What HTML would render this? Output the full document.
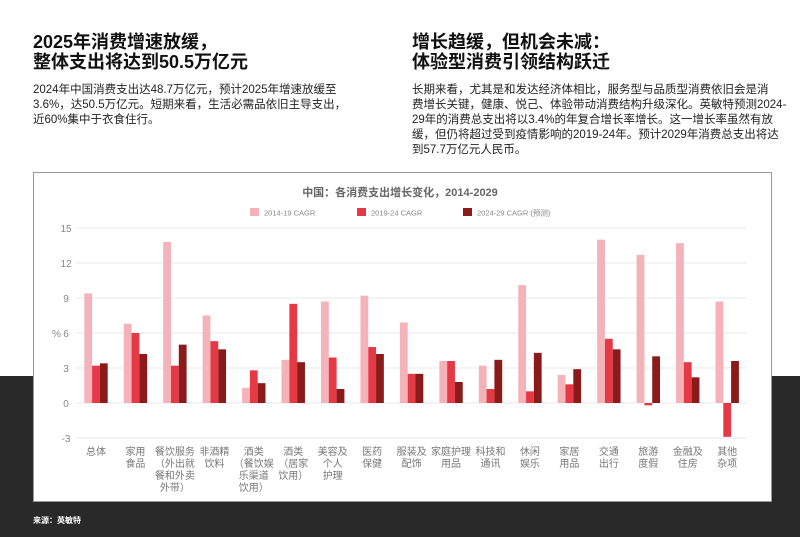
<!DOCTYPE html>
<html><head><meta charset="utf-8">
<style>
body{margin:0;width:800px;height:537px;position:relative;overflow:hidden;background:#fff;font-family:"Liberation Sans","Noto Sans CJK SC",sans-serif;}
.dark{position:absolute;left:0;top:376px;width:800px;height:161px;background:#2a2929;}
.h{position:absolute;font-size:18px;font-weight:bold;color:#111;line-height:20px;}
.p{position:absolute;font-size:11.5px;color:#222;line-height:15px;}
.card{position:absolute;left:33px;top:172px;width:739px;height:330px;background:#fff;border:1px solid #999;box-sizing:border-box;}
.src{position:absolute;left:33px;top:515px;font-size:8px;color:#fff;font-weight:bold;}
</style></head><body>
<div class="dark"></div>
<div class="h" style="left:33px;top:32px">2025年消费增速放缓，<br>整体支出将达到50.5万亿元</div>
<div class="p" style="left:33px;top:83px">2024年中国消费支出达48.7万亿元，预计2025年增速放缓至<br>3.6%，达50.5万亿元。短期来看，生活必需品依旧主导支出，<br>近60%集中于衣食住行。</div>
<div class="h" style="left:412px;top:32px">增长趋缓，但机会未减：<br>体验型消费引领结构跃迁</div>
<div class="p" style="left:412px;top:83px">长期来看，尤其是和发达经济体相比，服务型与品质型消费依旧会是消<br>费增长关键，健康、悦己、体验带动消费结构升级深化。英敏特预测2024-<br>29年的消费总支出将以3.4%的年复合增长率增长。这一增长率虽然有放<br>缓，但仍将超过受到疫情影响的2019-24年。预计2029年消费总支出将达<br>到57.7万亿元人民币。</div>
<div class="card"></div>
<svg id="chart" width="800" height="537" style="position:absolute;left:0;top:0"></svg>
<div class="src">来源：英敏特</div>
<script>
const categories=[["总体"],["家用","食品"],["餐饮服务","（外出就","餐和外卖","外带）"],["非酒精","饮料"],["酒类","（餐饮娱","乐渠道","饮用）"],["酒类","（居家","饮用）"],["美容及","个人","护理"],["医药","保健"],["服装及","配饰"],["家庭护理","用品"],["科技和","通讯"],["休闲","娱乐"],["家居","用品"],["交通","出行"],["旅游","度假"],["金融及","住房"],["其他","杂项"]];
const s1419=[9.4,6.8,13.8,7.5,1.3,3.7,8.7,9.2,6.9,3.6,3.2,10.1,2.4,14.0,12.7,13.7,8.7];
const s1924=[3.2,6.0,3.2,5.3,2.8,8.5,3.9,4.8,2.5,3.6,1.2,1.0,1.6,5.5,-0.2,3.5,-2.9];
const s2429=[3.4,4.2,5.0,4.6,1.7,3.5,1.2,4.2,2.5,1.8,3.7,4.3,2.9,4.6,4.0,2.2,3.6];
const yTicks=[15,12,9,6,3,0,-3];
const seriesNames=["2014-19 CAGR","2019-24 CAGR","2024-29 CAGR (预测)"];
const colors=["#f4b3b8","#e63946","#8b1a1a"];
const NS="http://www.w3.org/2000/svg";
const svg=document.getElementById('chart');
const y=v=>403-v*(175/15);
const x=i=>96+i*39.45;
function mk(t,a){const e=document.createElementNS(NS,t);for(const k in a)e.setAttribute(k,a[k]);svg.appendChild(e);return e;}
let t=mk('text',{x:400,y:196,'text-anchor':'middle','font-size':11,'font-weight':'bold',fill:'#666'});
t.textContent="中国：各消费支出增长变化，2014-2029";


const lx=[250,357,463];
seriesNames.forEach((n,i)=>{
 const r=mk('rect',{x:lx[i],y:208,width:9,height:8,fill:colors[i]});
 
 
 const tt=mk('text',{x:lx[i]+14,y:215.5,'font-size':7.5,fill:'#888'});tt.textContent=n;
 
 
});
yTicks.forEach(v=>{
 const l=mk('line',{x1:76,x2:747,y1:y(v),y2:y(v),stroke:'#e8e8e8','stroke-width':1});
 
 
 const tt=mk('text',{x:66,y:y(v)+4,'text-anchor':'middle','font-size':10,fill:'#888'});tt.textContent=v;
 
 
});
let yl=mk('text',{x:52,y:337,'font-size':10,fill:'#888'});yl.textContent="%";


const bw=7.8;
[s1419,s1924,s2429].forEach((s,j)=>{
 s.forEach((v,i)=>{
  const bx=x(i)-bw*1.5+j*bw;
  const r=mk('rect',{x:bx,y:Math.min(y(v),y(0)),width:bw,height:Math.abs(y(v)-y(0)),fill:colors[j]});
  
  
 });
});
categories.forEach((c,i)=>{
 c.forEach((line,k)=>{
  const tt=mk('text',{x:x(i),y:455+k*12,'text-anchor':'middle','font-size':10,fill:'#777'});tt.textContent=line;
  
  
 });
});
</script>
</body></html>
